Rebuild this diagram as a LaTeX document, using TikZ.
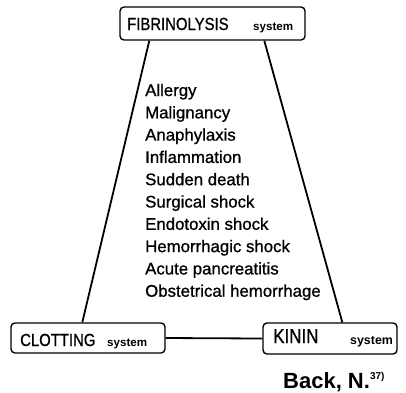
\documentclass[tikz,border=0pt]{standalone}
\usepackage{fontspec}
\setmainfont{Liberation Sans}
\newfontfamily\condfont{Liberation Sans}[FakeStretch=0.85,FakeBold=0.8]
\newfontfamily\listfont{Liberation Sans}[FakeBold=0.9]
\usetikzlibrary{calc}
\begin{document}
\begin{tikzpicture}[x=1pt,y=-1pt,
  sysbox/.style={draw,line width=1.4pt,rounded corners=4pt,inner sep=0pt},
  conn/.style={line width=1.8pt},
  big/.style={font=\condfont\fontsize{17.5}{20}\selectfont},
  sys/.style={font=\bfseries\fontsize{11.6}{13}\selectfont},
  item/.style={anchor=base west,inner sep=0pt,font=\listfont\fontsize{16.8}{20}\selectfont}]
\useasboundingbox (0,0) rectangle (406,392);
% boxes
\node[sysbox,minimum width=185pt,minimum height=33pt] (fib) at (212.5,23.5) {};
\node[sysbox,minimum width=154pt,minimum height=30pt] (clot) at (88,338) {};
\node[sysbox,minimum width=134pt,minimum height=31pt] (kin) at (330,338.5) {};
% box labels
\node[anchor=base west,inner sep=0pt,big] (fibt) at (127,30) {FIBRINOLYSIS};
\node[anchor=base west,inner sep=0pt,sys] (fibs) at (253,30) {system};
\node[anchor=base west,inner sep=0pt,big] (clott) at (20,346) {CLOTTING};
\node[anchor=base west,inner sep=0pt,sys] (clots) at (107,346) {system};
\node[anchor=base west,inner sep=0pt,font=\condfont\fontsize{20}{22}\selectfont] (kint) at (273,343) {KININ};
\node[anchor=base west,inner sep=0pt,font=\bfseries\fontsize{12.4}{14}\selectfont] (kins) at (350,344) {system};
% connectors
\draw[conn] ($(fib.south west)+(30,0)$) -- ($(clot.north west)+(72,0)$);
\draw[conn] ($(fib.south west)+(145,0)$) -- ($(kin.north west)+(80,0)$);
\draw[conn] (clot.east) -- (kin.west);
% list
\foreach \t [count=\i from 0] in {Allergy,Malignancy,Anaphylaxis,Inflammation,Sudden death,Surgical shock,Endotoxin shock,Hemorrhagic shock,Acute pancreatitis,Obstetrical hemorrhage}
  \node[item] (l\i) at (145,96+22.3*\i) {\t};
% reference
\node[anchor=base west,inner sep=0pt,font=\bfseries\fontsize{22}{24}\selectfont] (ref) at (283,388) {Back, N.\raisebox{0.4em}{\fontsize{10}{12}\selectfont 37)}};
\end{tikzpicture}
\end{document}
